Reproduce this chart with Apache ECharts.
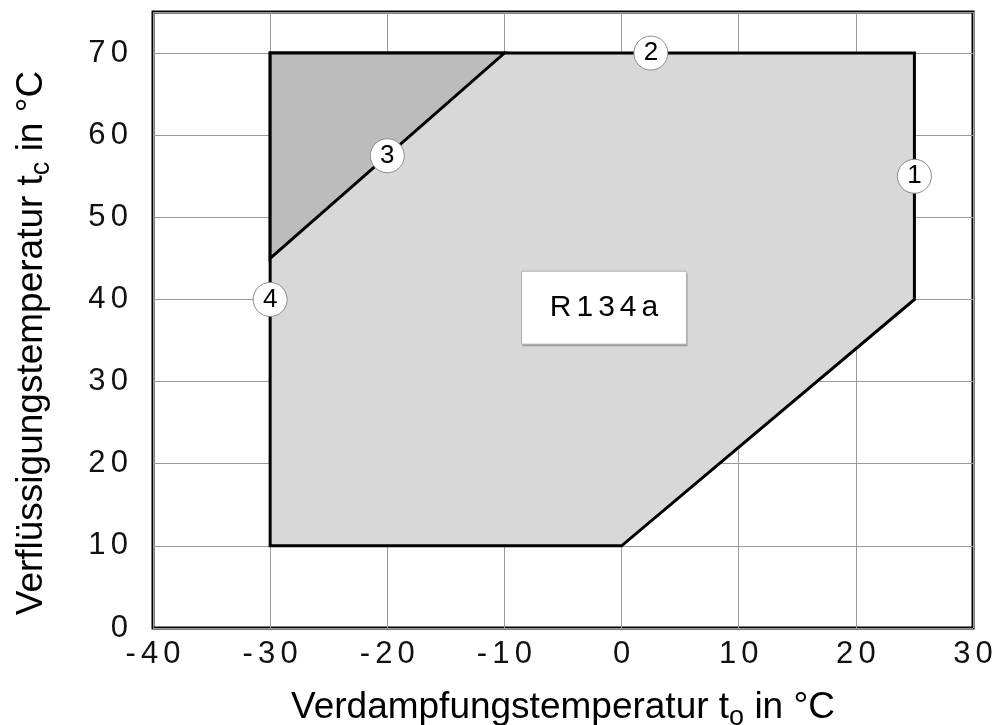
<!DOCTYPE html>
<html><head><meta charset="utf-8">
<script src="https://cdn.jsdelivr.net/npm/echarts@6/dist/echarts.min.js"></script>
<style>html,body{margin:0;padding:0;background:#fff}#c{width:996px;height:725px}</style>
</head><body><div id="c"></div>
<script>
// ---- data ----
const xTicks = [-40, -30, -20, -10, 0, 10, 20, 30];
const yTicks = [0, 10, 20, 30, 40, 50, 60, 70];
const envelopeX = [-30, 0, 25, 25, -30];
const envelopeY = [10, 10, 40, 70, 70];
const zoneX = [-30, -10, -30];
const zoneY = [45, 70, 70];
const markerLabels = ['1', '2', '3', '4'];
const markerX = [25, 2.5, -20, -30];
const markerY = [55, 70, 57.5, 40];
const refrigerant = 'R134a';

const FONT = '"Liberation Sans", Arial, sans-serif';
const spaced = s => String(s).split('').join('\u2006');

function polySeries(xs, ys, fill, z) {
  return {
    type: 'custom',
    coordinateSystem: 'cartesian2d',
    silent: true,
    z: z,
    data: [[xs[0], ys[0]]],
    renderItem: function (params, api) {
      const pts = xs.map((x, i) => api.coord([x, ys[i]]));
      return {
        type: 'polygon',
        shape: { points: pts },
        style: { fill: fill, stroke: '#000', lineWidth: 3, lineJoin: 'miter' }
      };
    }
  };
}

const chart = echarts.init(document.getElementById('c'), null, { renderer: 'canvas' });
chart.setOption({
  animation: false,
  backgroundColor: '#fff',
  grid: {
    left: 153, right: 23, top: 12, bottom: 97,
    outerBoundsMode: 'none', containLabel: false,
    show: true, borderColor: '#000', borderWidth: 3, backgroundColor: 'transparent'
  },
  xAxis: {
    type: 'value', min: xTicks[0], max: xTicks[xTicks.length - 1], interval: 10,
    axisLine: { show: false }, axisTick: { show: false },
    splitLine: { show: true, lineStyle: { color: '#9a9a9a', width: 1 } },
    axisLabel: { fontSize: 31, fontFamily: FONT, color: '#111', margin: 11, formatter: v => spaced(v) },
    name: 'Verdampfungstemperatur t{s|o} in °C',
    nameLocation: 'middle', nameGap: 56,
    nameTextStyle: { fontSize: 37, fontFamily: FONT, color: '#000',
      rich: { s: { fontSize: 27, fontFamily: FONT, color: '#000', padding: [20, 0, 0, 0] } } }
  },
  yAxis: {
    type: 'value', min: yTicks[0], max: 75, interval: 10,
    axisLine: { show: false }, axisTick: { show: false },
    splitLine: { show: true, lineStyle: { color: '#9a9a9a', width: 1 } },
    axisLabel: { fontSize: 31, fontFamily: FONT, color: '#111', margin: 25, showMaxLabel: false,
      formatter: v => (v > 70 ? '' : spaced(v)) },
    name: 'Verflüssigungstemperatur t{s|c} in °C',
    nameLocation: 'middle', nameGap: 98,
    nameTextStyle: { fontSize: 37, fontFamily: FONT, color: '#000', padding: [0, 46, 0, 0],
      rich: { s: { fontSize: 27, fontFamily: FONT, color: '#000', padding: [20, 0, 0, 0] } } }
  },
  series: [
    polySeries(envelopeX, envelopeY, '#d8d8d8', 2),
    polySeries(zoneX, zoneY, '#bcbcbc', 3),
    {
      type: 'scatter', z: 5, silent: true,
      symbol: 'circle', symbolSize: 34,
      itemStyle: { color: '#fff', borderColor: '#8a8a8a', borderWidth: 1, opacity: 1 },
      label: { show: true, position: 'inside', fontSize: 26, fontFamily: FONT, color: '#000',
        formatter: p => p.data[2] },
      data: markerX.map((x, i) => [x, markerY[i], markerLabels[i]])
    },
    {
      type: 'custom', coordinateSystem: 'cartesian2d', silent: true, z: 6,
      data: [[-1.5, 39]],
      renderItem: function (params, api) {
        const c = api.coord([api.value(0), api.value(1)]);
        const w = 165, h = 73;
        return {
          type: 'group',
          children: [
            { type: 'rect', shape: { x: c[0] - w / 2 + 1, y: c[1] - h / 2 + 2, width: w, height: h },
              style: { fill: '#9a9a9a' } },
            { type: 'rect', shape: { x: c[0] - w / 2, y: c[1] - h / 2, width: w, height: h },
              style: { fill: '#fff', stroke: '#b0b0b0', lineWidth: 1 } },
            { type: 'text', x: c[0], y: c[1],
              style: { text: spaced(refrigerant), fontSize: 30, fontFamily: FONT, fill: '#000',
                align: 'center', verticalAlign: 'middle' } }
          ]
        };
      }
    }
  ]
});
</script>
</body></html>
